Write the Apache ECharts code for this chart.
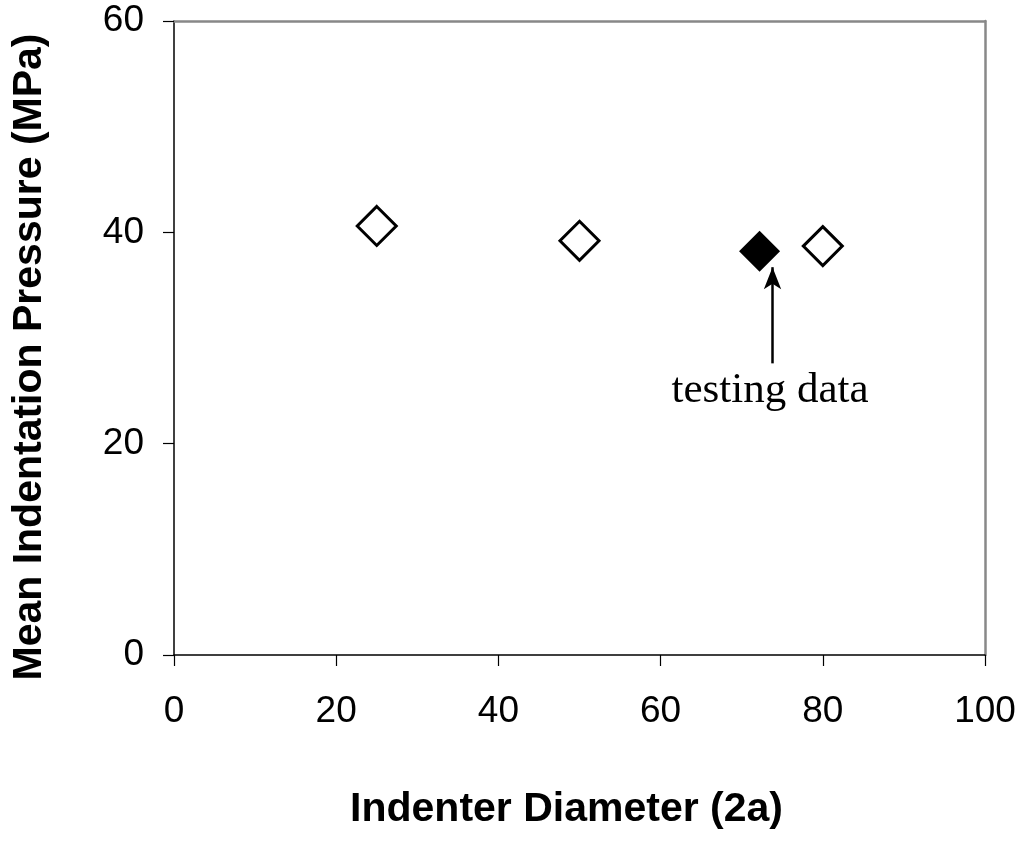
<!DOCTYPE html>
<html>
<head>
<meta charset="utf-8">
<script src="https://cdn.jsdelivr.net/npm/echarts@6/dist/echarts.min.js"></script>
<style>
html,body{margin:0;padding:0;background:#fff;}
#chart{width:1025px;height:843px;}
</style>
</head>
<body>
<div id="chart"></div>
<script>
// Data
const xTicks = [0, 20, 40, 60, 80, 100];
const yTicks = [0, 20, 40, 60];
const openX = [25, 50, 80];
const openY = [40.6, 39.2, 38.7];
const filledX = [72.2];
const filledY = [38.2];
const noteText = 'testing data';
const noteX = 73.5;
const noteY = 25.0;
const arrowX = 73.8;
const arrowFrom = 27.6;
const arrowTo = 36.7;
const xTitle = 'Indenter Diameter (2a)';
const yTitle = 'Mean Indentation Pressure (MPa)';

const chart = echarts.init(document.getElementById('chart'), null, {renderer: 'canvas'});
const sans = '"Liberation Sans", Arial, sans-serif';
const serif = '"Liberation Serif", "Times New Roman", serif';

const option = {
  animation: false,
  backgroundColor: '#fff',
  grid: {left: 174, top: 21, right: 40, bottom: 188, containLabel: false},
  xAxis: [{
    type: 'value', min: xTicks[0], max: xTicks[xTicks.length - 1], interval: 20,
    position: 'bottom',
    name: xTitle, nameLocation: 'middle', nameGap: 134,
    nameTextStyle: {fontFamily: sans, fontWeight: 'bold', fontSize: 41, color: '#000', padding: [0, 26, 0, 0]},
    axisLine: {show: true, onZero: false, lineStyle: {color: '#000', width: 1.5}},
    axisTick: {show: true, inside: false, length: 11, lineStyle: {color: '#000', width: 1.2}},
    axisLabel: {fontFamily: sans, fontSize: 37, color: '#000', margin: 38},
    splitLine: {show: false}
  }, {
    type: 'value', min: xTicks[0], max: xTicks[xTicks.length - 1], interval: 20,
    position: 'top',
    axisLine: {show: true, onZero: false, lineStyle: {color: '#888', width: 2.5}},
    axisTick: {show: false}, axisLabel: {show: false}, splitLine: {show: false}
  }],
  yAxis: [{
    type: 'value', min: yTicks[0], max: yTicks[yTicks.length - 1], interval: 20,
    position: 'left',
    name: yTitle, nameLocation: 'middle', nameGap: 124, nameRotate: 90,
    nameTextStyle: {fontFamily: sans, fontWeight: 'bold', fontSize: 41, color: '#000', padding: [0, 38, 0, 0]},
    axisLine: {show: true, onZero: false, lineStyle: {color: '#000', width: 1.5}},
    axisTick: {show: true, inside: false, length: 11, lineStyle: {color: '#000', width: 1.2}},
    axisLabel: {fontFamily: sans, fontSize: 37, color: '#000', margin: 30},
    splitLine: {show: false}
  }, {
    type: 'value', min: yTicks[0], max: yTicks[yTicks.length - 1], interval: 20,
    position: 'right',
    axisLine: {show: true, onZero: false, lineStyle: {color: '#888', width: 2.5}},
    axisTick: {show: false}, axisLabel: {show: false}, splitLine: {show: false}
  }],
  series: [{
    type: 'scatter',
    data: openX.map((x, i) => [x, openY[i]]),
    symbol: 'diamond', symbolSize: 39,
    itemStyle: {color: '#fff', borderColor: '#000', borderWidth: 3, opacity: 1},
    z: 5
  }, {
    type: 'scatter',
    data: filledX.map((x, i) => [x, filledY[i]]),
    symbol: 'diamond', symbolSize: 41,
    itemStyle: {color: '#000', borderColor: '#000', borderWidth: 0, opacity: 1},
    z: 5
  }, {
    type: 'scatter',
    data: [[noteX, noteY]],
    symbol: 'circle', symbolSize: 1,
    itemStyle: {color: 'rgba(0,0,0,0)', opacity: 1},
    label: {show: true, position: 'inside', formatter: noteText,
      fontFamily: serif, fontSize: 43, color: '#000'},
    markLine: {
      silent: true,
      symbol: ['none', 'arrow'],
      symbolSize: [13, 22],
      label: {show: false},
      lineStyle: {color: '#000', width: 2.5, type: 'solid', opacity: 1},
      data: [[{coord: [arrowX, arrowFrom]}, {coord: [arrowX, arrowTo]}]]
    },
    z: 4
  }]
};
chart.setOption(option);
</script>
</body>
</html>
